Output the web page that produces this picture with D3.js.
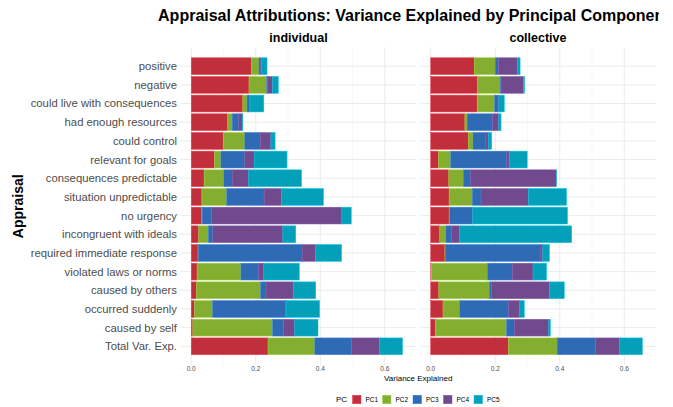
<!DOCTYPE html>
<html>
<head>
<meta charset="utf-8">
<script src="https://cdn.jsdelivr.net/npm/d3@7"></script>
<style>
  body { margin: 0; background: #fff; overflow: hidden; }
  text { font-family: "Liberation Sans", Arial, sans-serif; }
</style>
</head>
<body>
<svg id="chart"></svg>
<script>
// Data
const appraisals = ["positive", "negative", "could live with consequences", "had enough resources",
  "could control", "relevant for goals", "consequences predictable", "situation unpredictable",
  "no urgency", "incongruent with ideals", "required immediate response", "violated laws or norms",
  "caused by others", "occurred suddenly", "caused by self", "Total Var. Exp."];
const components = ["PC1", "PC2", "PC3", "PC4", "PC5"];
const panels = ["individual", "collective"];
const xTicks = [0, 0.2, 0.4, 0.6];

// individual
const indPC1 = [0.186, 0.179, 0.160, 0.113, 0.099, 0.072, 0.040, 0.033, 0.033, 0.023, 0.021, 0.018, 0.016, 0.010, 0.005, 0.238];
const indPC2 = [0.024, 0.055, 0.013, 0.014, 0.067, 0.020, 0.061, 0.077, 0.001, 0.030, 0.001, 0.136, 0.199, 0.056, 0.247, 0.145];
const indPC3 = [0.006, 0.002, 0.007, 0.020, 0.048, 0.074, 0.026, 0.116, 0.029, 0.014, 0.322, 0.055, 0.017, 0.227, 0.035, 0.114];
const indPC4 = [0.002, 0.016, 0.002, 0.011, 0.033, 0.029, 0.051, 0.054, 0.404, 0.217, 0.041, 0.016, 0.084, 0.001, 0.034, 0.086];
const indPC5 = [0.017, 0.018, 0.043, 0.002, 0.013, 0.102, 0.164, 0.130, 0.029, 0.040, 0.081, 0.110, 0.070, 0.104, 0.072, 0.072];

// collective
const colPC1 = [0.135, 0.145, 0.144, 0.106, 0.117, 0.024, 0.056, 0.057, 0.057, 0.028, 0.044, 0.002, 0.025, 0.038, 0.014, 0.241];
const colPC2 = [0.065, 0.071, 0.054, 0.007, 0.014, 0.038, 0.045, 0.072, 0.002, 0.019, 0.001, 0.174, 0.157, 0.052, 0.221, 0.151];
const colPC3 = [0.010, 0.002, 0.011, 0.079, 0.038, 0.173, 0.022, 0.027, 0.070, 0.018, 0.294, 0.077, 0.006, 0.151, 0.024, 0.119];
const colPC4 = [0.058, 0.069, 0.002, 0.019, 0.009, 0.008, 0.266, 0.147, 0.001, 0.024, 0.008, 0.064, 0.180, 0.035, 0.107, 0.074];
const colPC5 = [0.009, 0.004, 0.017, 0.007, 0.011, 0.056, 0.001, 0.118, 0.294, 0.348, 0.021, 0.042, 0.046, 0.014, 0.005, 0.071];

const colors = ["#c02f3b", "#83ae2f", "#2f6ab5", "#704a8d", "#04a0ba"];

const panelSeries = {
  individual: [indPC1, indPC2, indPC3, indPC4, indPC5],
  collective: [colPC1, colPC2, colPC3, colPC4, colPC5]
};

// Layout
const width = 673;
const height = 407;
const panelTop = 47.5, panelBottom = 365;
const panelX = { individual: [180.5, 416.5], collective: [420, 656] };
const panelMid = (panelX.individual[0] + panelX.collective[1]) / 2;

const svg = d3.select("#chart").attr("width", width).attr("height", height);

// the original plot cuts its over-long title at the plot margin
svg.append("defs").append("clipPath").attr("id", "title-clip")
  .append("rect").attr("x", 0).attr("y", 0).attr("width", 659).attr("height", 30);

const y = d3.scaleBand()
  .domain(appraisals)
  .range([panelTop, panelBottom])
  .paddingInner(0.1)
  .paddingOuter(0.6 - 0.05);

// Title (centred on the panels)
svg.append("text")
  .attr("clip-path", "url(#title-clip)")
  .attr("x", panelMid).attr("y", 21)
  .attr("text-anchor", "middle")
  .attr("font-size", 16).attr("font-weight", "bold").attr("fill", "#000")
  .text("Appraisal Attributions: Variance Explained by Principal Components");

// Y axis title
svg.append("text")
  .attr("transform", "translate(23," + ((panelTop + panelBottom) / 2) + ") rotate(-90)")
  .attr("text-anchor", "middle")
  .attr("font-size", 14).attr("font-weight", "bold")
  .text("Appraisal");

// Y labels
svg.append("g").selectAll("text")
  .data(appraisals)
  .join("text")
  .attr("x", 177)
  .attr("y", d => y(d) + y.bandwidth() / 2)
  .attr("dy", "0.35em")
  .attr("text-anchor", "end")
  .attr("font-size", 11.3)
  .attr("fill", "#4d4d4d")
  .text(d => d);

panels.forEach(p => {
  const [x0, x1] = panelX[p];
  const x = d3.scaleLinear().domain([-0.0333, 0.6983]).range([x0, x1]);
  const g = svg.append("g");

  // grid
  const minor = [0.1, 0.3, 0.5];
  g.selectAll(".minor").data(minor).join("line")
    .attr("x1", d => x(d)).attr("x2", d => x(d))
    .attr("y1", panelTop).attr("y2", panelBottom)
    .attr("stroke", "#f2f2f2").attr("stroke-width", 0.5);
  g.selectAll(".major").data(xTicks).join("line")
    .attr("x1", d => x(d)).attr("x2", d => x(d))
    .attr("y1", panelTop).attr("y2", panelBottom)
    .attr("stroke", "#ebebeb").attr("stroke-width", 1);
  g.selectAll(".hgrid").data(appraisals).join("line")
    .attr("x1", x0).attr("x2", x1)
    .attr("y1", d => y(d) + y.bandwidth() / 2).attr("y2", d => y(d) + y.bandwidth() / 2)
    .attr("stroke", "#ebebeb").attr("stroke-width", 1);

  // stacked bars
  const rows = appraisals.map((a, i) => {
    const r = { appraisal: a };
    components.forEach((c, k) => { r[c] = panelSeries[p][k][i]; });
    return r;
  });
  const stacked = d3.stack().keys(components)(rows);
  g.selectAll(".layer").data(stacked).join("g")
    .attr("fill", (d, k) => colors[k])
    .attr("stroke", (d, k) => d3.color(colors[k]).brighter(0.6))
    .attr("stroke-width", 0.5)
    .selectAll("rect")
    .data(d => d)
    .join("rect")
    .attr("x", d => x(d[0]))
    .attr("width", d => Math.max(0, x(d[1]) - x(d[0])))
    .attr("y", d => y(d.data.appraisal))
    .attr("height", y.bandwidth());

  // x tick labels
  g.selectAll(".tick").data(xTicks).join("text")
    .attr("x", d => x(d)).attr("y", 371)
    .attr("text-anchor", "middle")
    .attr("font-size", 6.5).attr("fill", "#4d4d4d")
    .text(d => d3.format(".1f")(d));

  // strip
  svg.append("text")
    .attr("x", (x0 + x1) / 2).attr("y", 42)
    .attr("text-anchor", "middle")
    .attr("font-size", 12.5).attr("font-weight", "bold")
    .text(p);
});

// x axis title
svg.append("text")
  .attr("x", panelMid).attr("y", 381)
  .attr("text-anchor", "middle")
  .attr("font-size", 8).attr("fill", "#000")
  .text("Variance Explained");

// Legend
const legend = svg.append("g").attr("transform", "translate(336,399.5)");
legend.append("text").attr("x", 0).attr("y", 0).attr("dy", "0.35em")
  .attr("font-size", 8).text("PC");
const keyX = [16.5, 46.5, 77, 107.5, 138];
components.forEach((c, k) => {
  legend.append("rect")
    .attr("x", keyX[k]).attr("y", -4.25).attr("width", 8.5).attr("height", 8.5)
    .attr("fill", colors[k]).attr("stroke", d3.color(colors[k]).brighter(0.6)).attr("stroke-width", 0.5);
  legend.append("text")
    .attr("x", keyX[k] + 13).attr("y", 0).attr("dy", "0.35em")
    .attr("font-size", 6.5).text(c);
});
</script>
</body>
</html>
